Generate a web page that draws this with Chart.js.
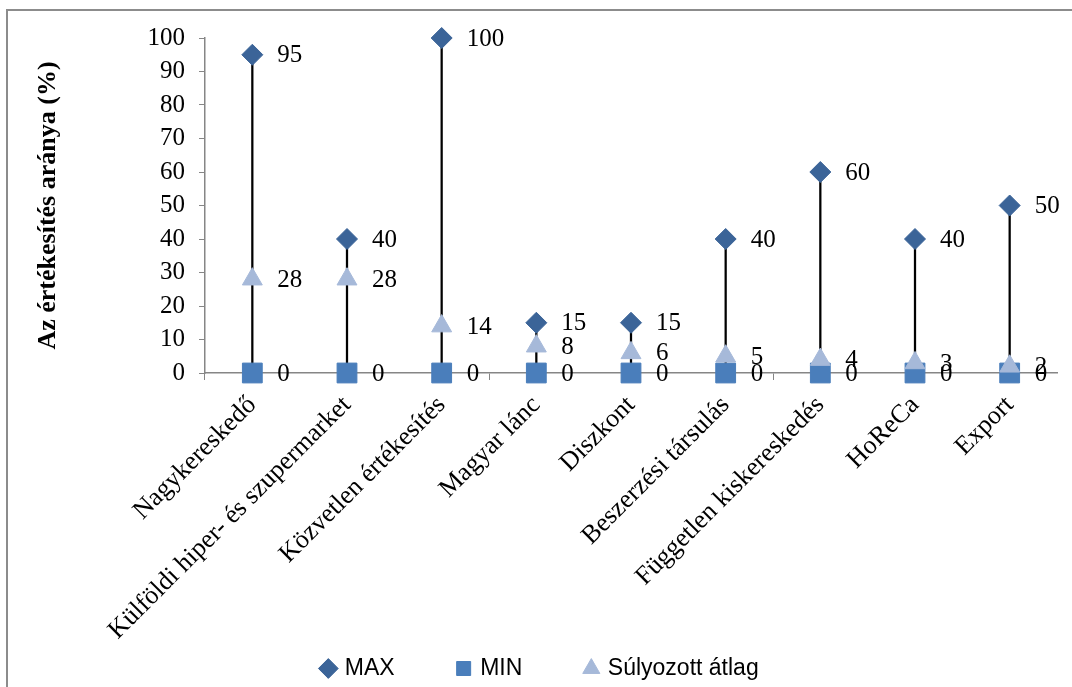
<!DOCTYPE html>
<html lang="hu">
<head>
<meta charset="UTF-8">
<title>Értékesítési csatornák</title>
<script src="https://cdn.jsdelivr.net/npm/chart.js@4.4.0/dist/chart.umd.min.js"></script>
<style>
  html, body { margin: 0; padding: 0; background: #fff; }
  #wrap { position: relative; width: 1072px; height: 687px; overflow: hidden; }
  #frame { position: absolute; left: 6px; top: 9px; right: 0; bottom: 0;
           border-left: 2px solid #8c8c8c; border-top: 2px solid #8c8c8c; pointer-events: none; }
  canvas { position: absolute; left: 0; top: 0; }
</style>
</head>
<body>
<div id="wrap">
  <canvas id="chart" width="1072" height="690"></canvas>
  <div id="frame"></div>
</div>
<script>
// adatok
const categories = ['Nagykereskedő', 'Külföldi hiper- és szupermarket', 'Közvetlen értékesítés',
  'Magyar lánc', 'Diszkont', 'Beszerzési társulás', 'Független kiskereskedés', 'HoReCa', 'Export'];
const maxValues = [95, 40, 100, 15, 15, 40, 60, 40, 50];
const minValues = [0, 0, 0, 0, 0, 0, 0, 0, 0];
const avgValues = [28, 28, 14, 8, 6, 5, 4, 3, 2];
const yTicks = [0, 10, 20, 30, 40, 50, 60, 70, 80, 90, 100];

const axisGray = '#868686';
const serif = "'Liberation Serif', 'Times New Roman', serif";

// értékek kiírása a pontok mellé
const valueLabels = {
  id: 'valueLabels',
  afterDatasetsDraw(chart) {
    const ctx = chart.ctx;
    ctx.save();
    ctx.font = '25px ' + serif;
    ctx.fillStyle = '#000';
    ctx.textAlign = 'left';
    ctx.textBaseline = 'middle';
    [1, 2, 0].forEach(di => {
      const meta = chart.getDatasetMeta(di);
      const data = chart.data.datasets[di].data;
      meta.data.forEach((pt, i) => {
        ctx.fillText(String(data[i]), pt.x + 25, pt.y + 1);
      });
    });
    ctx.restore();
  }
};

Chart.defaults.font.family = serif;
Chart.defaults.color = '#000';

new Chart(document.getElementById('chart'), {
  type: 'line',
  data: {
    labels: categories,
    datasets: [
      {
        label: 'MAX', data: maxValues, showLine: false, order: 0, clip: false,
        pointStyle: 'rectRot', pointRadius: 10.5, pointHoverRadius: 10.5,
        backgroundColor: '#3B6498', borderColor: '#3B6498', pointBorderWidth: 1
      },
      {
        label: 'MIN', data: minValues, showLine: false, order: 2, clip: false,
        pointStyle: 'rect', pointRadius: 14, pointHoverRadius: 14,
        backgroundColor: '#4A7EBB', borderColor: '#4A7EBB', pointBorderWidth: 1
      },
      {
        label: 'Súlyozott átlag', data: avgValues, showLine: false, order: 1, clip: false,
        pointStyle: 'triangle', pointRadius: 11.5, pointHoverRadius: 11.5,
        backgroundColor: '#A6B9D9', borderColor: '#A6B9D9', pointBorderWidth: 1
      },
      {
        type: 'bar', label: 'range', order: 10,
        data: minValues.map((v, i) => [v, maxValues[i]]),
        backgroundColor: '#000', barThickness: 1.6
      }
    ]
  },
  options: {
    responsive: false,
    animation: false,
    events: [],
    layout: { padding: { left: 24, top: 38, right: 14, bottom: 0 } },
    plugins: {
      tooltip: { enabled: false },
      legend: {
        position: 'bottom',
        labels: {
          usePointStyle: true,
          boxWidth: 10, boxHeight: 14,
          padding: 64,
          color: '#000',
          font: { family: "'Liberation Sans', Arial, sans-serif", size: 23 },
          filter: item => item.datasetIndex !== 3,
          sort: (a, b) => a.datasetIndex - b.datasetIndex
        }
      }
    },
    scales: {
      x: {
        type: 'category',
        offset: true,
        grid: {
          offset: true, drawOnChartArea: false, tickLength: 7,
          tickColor: c => (c.index % 3 === 0 ? axisGray : 'rgba(0,0,0,0)')
        },
        border: { color: axisGray, width: 1.5 },
        ticks: {
          autoSkip: false, minRotation: 45, maxRotation: 45, padding: 10,
          font: { size: 26 }, color: '#000'
        },
        afterFit(scale) {
          scale.height = 220;
          // a hosszú, ferde feliratok lelóghatnak a tengely dobozáról
          scale._computeLabelArea = () => undefined;
        }
      },
      y: {
        min: 0, max: 100,
        afterBuildTicks(scale) { scale.ticks = yTicks.map(v => ({ value: v })); },
        grid: { drawOnChartArea: false, tickLength: 6, color: axisGray },
        border: { color: axisGray, width: 1.5 },
        ticks: { padding: 14, font: { size: 25 }, color: '#000' },
        title: {
          display: true, text: 'Az értékesítés aránya (%)',
          font: { size: 26, weight: 'bold' }, color: '#000',
          padding: { top: 9, bottom: 0 }
        },
        afterFit(scale) { scale.width = 181; }
      }
    }
  },
  plugins: [valueLabels]
});
</script>
</body>
</html>
